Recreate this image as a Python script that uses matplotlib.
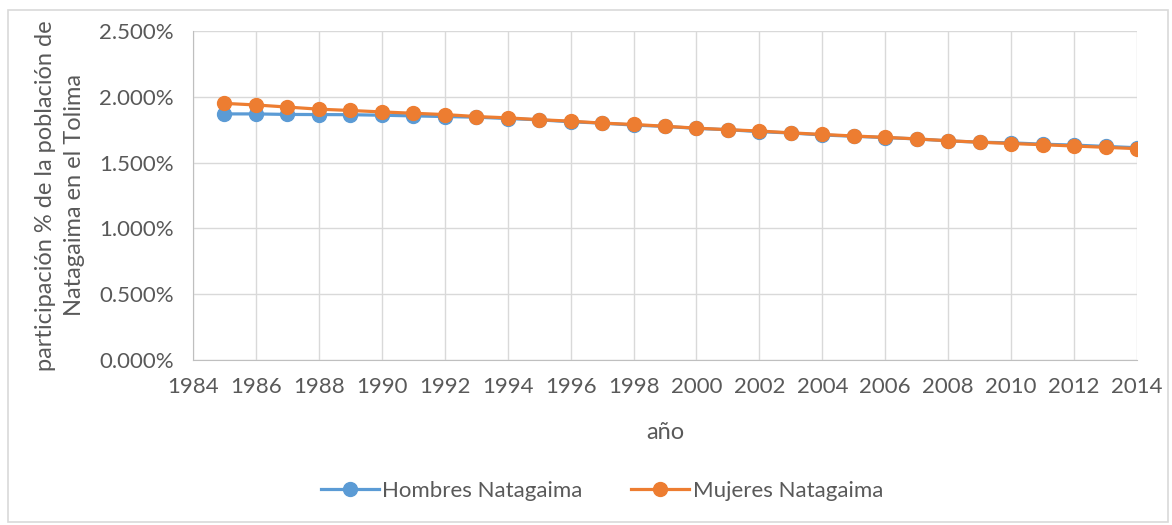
import matplotlib
matplotlib.use("Agg")
import matplotlib.pyplot as plt
from matplotlib.ticker import FuncFormatter, MultipleLocator
from matplotlib.patches import Rectangle

years = list(range(1985, 2015))
hombres = [1.870, 1.870, 1.866, 1.865, 1.864, 1.860, 1.855, 1.850, 1.845, 1.835,
           1.825, 1.810, 1.800, 1.785, 1.775, 1.760, 1.750, 1.735, 1.725, 1.710,
           1.700, 1.690, 1.680, 1.665, 1.655, 1.650, 1.640, 1.633, 1.623, 1.613]
mujeres = [1.950, 1.938, 1.922, 1.906, 1.896, 1.885, 1.875, 1.865, 1.850, 1.840,
           1.826, 1.815, 1.800, 1.790, 1.776, 1.762, 1.750, 1.740, 1.726, 1.714,
           1.702, 1.692, 1.680, 1.666, 1.655, 1.645, 1.636, 1.626, 1.616, 1.606]
xticks = list(range(1984, 2015, 2))

plt.rcParams['font.family'] = ['Lato', 'DejaVu Sans']
txt = '#595959'

fig = plt.figure(figsize=(11.72, 5.25), dpi=100)
fig.patches.append(Rectangle((8/1172, 1 - 522/525), 1160/1172, 512/525, transform=fig.transFigure,
                             fill=False, edgecolor='#d9d9d9', linewidth=1.2))
ax = fig.add_axes([193/1172, 1 - 360/525, (1137 - 193)/1172, (360 - 31)/525])

ax.plot(years, hombres, color='#5B9BD5', marker='o', markersize=10, linewidth=2.3,
        label='Hombres Natagaima', zorder=3)
ax.plot(years, mujeres, color='#ED7D31', marker='o', markersize=10, linewidth=2.3,
        label='Mujeres Natagaima', zorder=4)

ax.set_xlim(1984, 2014)
ax.set_ylim(0, 2.5)
ax.set_xticks(xticks)
ax.yaxis.set_major_locator(MultipleLocator(0.5))
ax.yaxis.set_major_formatter(FuncFormatter(lambda v, p: f"{v:.3f}%"))
ax.grid(True, color='#d9d9d9', linewidth=1)
ax.set_axisbelow(True)
for s in ['top', 'right']:
    ax.spines[s].set_visible(False)
for s in ['left', 'bottom']:
    ax.spines[s].set_color('#bfbfbf')
ax.tick_params(axis='both', length=0, labelsize=16, colors=txt)
ax.tick_params(axis='y', pad=14)
ax.tick_params(axis='x', pad=12)

ax.set_xlabel('año', fontsize=17, color=txt, labelpad=18)
ax.set_ylabel('participación % de la población de\nNatagaima en el Tolima', fontsize=17,
              color=txt, labelpad=10, linespacing=1.5)

leg = fig.legend(loc='center', bbox_to_anchor=(602/1172, 1 - 491/525), ncol=2, frameon=False,
                 fontsize=16, handlelength=2.6, columnspacing=2.2, handletextpad=0.15)
for t in leg.get_texts():
    t.set_color(txt)

fig.savefig('out.png', dpi=100)
